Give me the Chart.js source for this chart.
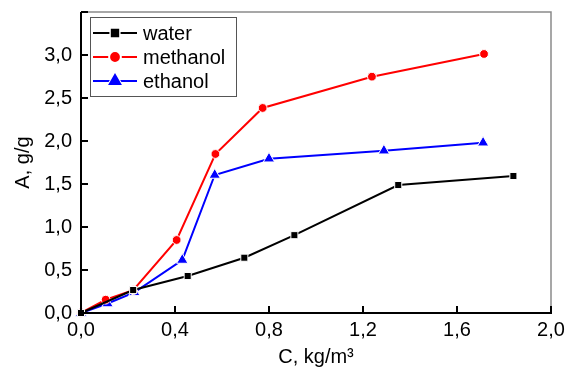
<!DOCTYPE html>
<html><head><meta charset="utf-8">
<script src="https://cdn.jsdelivr.net/npm/chart.js@4/dist/chart.umd.min.js"></script>
<style>html,body{margin:0;padding:0;background:#fff}#wrap{width:566px;height:367px}</style>
</head><body><div id="wrap"><canvas id="c" width="566" height="367"></canvas></div>
<script>
const seriesNames = ['water', 'methanol', 'ethanol'];
const waterX = [0, 0.222, 0.454, 0.695, 0.908, 1.350, 1.840];
const waterY = [0, 0.267, 0.430, 0.643, 0.905, 1.488, 1.593];
const methanolX = [0, 0.105, 0.222, 0.407, 0.572, 0.773, 1.238, 1.715];
const methanolY = [0, 0.155, 0.265, 0.849, 1.849, 2.384, 2.748, 3.012];
const ethanolX = [0, 0.113, 0.227, 0.431, 0.569, 0.800, 1.289, 1.711];
const ethanolY = [0, 0.110, 0.240, 0.616, 1.605, 1.794, 1.887, 1.980];
const xTicks = [0, 0.4, 0.8, 1.2, 1.6, 2.0];
const yTicks = [0, 0.5, 1.0, 1.5, 2.0, 2.5, 3.0];

const pts = (xs, ys) => xs.map((x, i) => ({x, y: ys[i]}));
const FONT = 'Liberation Sans, Arial, sans-serif';
const fmt = v => v.toFixed(1).replace('.', ',');

const styles = [
  {color: '#000000', pointStyle: 'rect', r: 5},
  {color: '#ff0000', pointStyle: 'circle', r: 4.4},
  {color: '#0000ff', pointStyle: 'triangle', r: 6.5}
];
const dataSets = [pts(waterX, waterY), pts(methanolX, methanolY), pts(ethanolX, ethanolY)];

const frame = {
  id: 'frame',
  afterDatasetsDraw(chart) {
    const {ctx, chartArea: a} = chart;
    ctx.save();
    ctx.strokeStyle = '#8a8a8a'; ctx.lineWidth = 1.5;
    ctx.beginPath();
    ctx.moveTo(a.left, a.top); ctx.lineTo(a.right, a.top); ctx.lineTo(a.right, a.bottom);
    ctx.stroke();
    ctx.strokeStyle = '#000'; ctx.lineWidth = 2;
    ctx.beginPath();
    ctx.moveTo(a.left, a.top); ctx.lineTo(a.left, a.bottom); ctx.lineTo(a.right + 1, a.bottom);
    ctx.stroke();
    const xs = chart.scales.x, ys = chart.scales.y;
    ctx.beginPath();
    xTicks.forEach(v => { const p = Math.round(xs.getPixelForValue(v)); ctx.moveTo(p, a.bottom); ctx.lineTo(p, a.bottom - 7); });
    yTicks.concat([3.5]).forEach(v => { const p = Math.round(ys.getPixelForValue(v)); ctx.moveTo(a.left, p); ctx.lineTo(a.left + 7, p); });
    ctx.stroke();
    ctx.restore();
  },
  afterDraw(chart) {
    const ctx = chart.ctx;
    ctx.save();
    const bx = 90.5, by = 17.5, bw = 146, bh = 79;
    ctx.fillStyle = '#fff'; ctx.fillRect(bx, by, bw, bh);
    ctx.strokeStyle = '#555'; ctx.lineWidth = 1; ctx.strokeRect(bx, by, bw, bh);
    const rows = [33, 57, 81];
    chart.data.datasets.forEach((ds, i) => {
      const y = rows[i];
      ctx.strokeStyle = ds.borderColor; ctx.lineWidth = 2;
      ctx.beginPath(); ctx.moveTo(93, y); ctx.lineTo(137, y); ctx.stroke();
      ctx.fillStyle = '#fff'; ctx.strokeStyle = '#fff';
      Chart.helpers.drawPoint(ctx, {pointStyle: ds.pointStyle, radius: ds.pointRadius + 1.5, borderWidth: 1, rotation: 0}, 115, y);
      ctx.fillStyle = ds.backgroundColor; ctx.strokeStyle = ds.backgroundColor;
      Chart.helpers.drawPoint(ctx, {pointStyle: ds.pointStyle, radius: ds.pointRadius - 0.5, borderWidth: 1, rotation: 0}, 115, y);
      ctx.fillStyle = '#000'; ctx.font = '20px ' + FONT; ctx.textBaseline = 'middle'; ctx.textAlign = 'left';
      ctx.fillText(ds.label, 143, y + 1);
    });
    ctx.restore();
  }
};

new Chart(document.getElementById('c'), {
  type: 'line',
  data: {
    datasets: dataSets.map((d, i) => ({
      label: seriesNames[i], data: d,
      borderColor: styles[i].color, backgroundColor: styles[i].color,
      borderWidth: 2, pointStyle: styles[i].pointStyle, pointRadius: styles[i].r,
      pointBorderColor: '#ffffff', pointBorderWidth: 1, pointBackgroundColor: styles[i].color,
      tension: 0, clip: false
    }))
  },
  options: {
    responsive: false, animation: false, devicePixelRatio: 1,
    layout: {padding: {left: 0, top: 12, right: 15, bottom: 0}},
    plugins: {legend: {display: false}, tooltip: {enabled: false}},
    scales: {
      x: {
        type: 'linear', min: 0, max: 2.0,
        afterFit: s => { s.height = 54; s.paddingLeft = 0; s.paddingRight = 0; },
        afterBuildTicks: s => { s.ticks = xTicks.map(v => ({value: v})); },
        grid: {display: false, drawTicks: false}, border: {display: false},
        ticks: {padding: 5, color: '#000', font: {family: FONT, size: 20}, callback: v => fmt(v), maxRotation: 0, autoSkip: false},
        title: {display: true, text: 'C, kg/m³', color: '#000', font: {family: FONT, size: 20, lineHeight: 1}, padding: 0}
      },
      y: {
        type: 'linear', min: 0, max: 3.5,
        afterFit: s => { s.width = 81; s.paddingTop = 0; s.paddingBottom = 0; },
        afterBuildTicks: s => { s.ticks = yTicks.map(v => ({value: v})); },
        grid: {display: false, drawTicks: false}, border: {display: false},
        ticks: {padding: 9, color: '#000', font: {family: FONT, size: 20}, callback: v => fmt(v), autoSkip: false},
        title: {display: true, text: 'A, g/g', color: '#000', font: {family: FONT, size: 20, lineHeight: 1}, padding: {top: 13, bottom: 0}}
      }
    }
  },
  plugins: [frame]
});
</script>
</body></html>
